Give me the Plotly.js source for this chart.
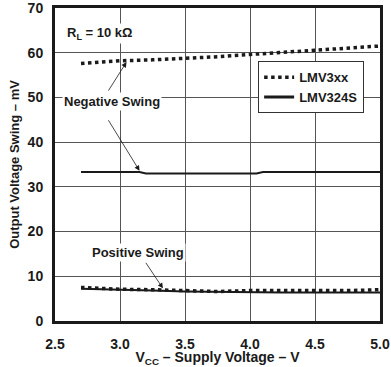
<!DOCTYPE html>
<html>
<head>
<meta charset="utf-8">
<script src="https://cdn.plot.ly/plotly-3.0.1.min.js"></script>
<style>html,body{margin:0;padding:0;background:#fff}#chart{width:391px;height:367px}</style>
</head>
<body>
<div id="chart"></div>
<script>
var vccX = [2.7, 3.0, 3.25, 3.5, 3.75, 4.0, 4.25, 4.5, 4.75, 5.0];
var lmv3xxNeg = [57.6, 58.2, 58.4, 58.7, 59.1, 59.6, 60.1, 60.6, 61.0, 61.5];
var lmv3xxPos = [7.5, 7.1, 7.0, 6.8, 6.6, 6.8, 6.8, 6.8, 6.8, 7.0];
var lmv324sNegX = [2.7, 3.15, 3.2, 4.05, 4.1, 5.0];
var lmv324sNeg = [33.3, 33.3, 33.0, 33.0, 33.3, 33.3];
var lmv324sPos = [7.2, 6.9, 6.8, 6.6, 6.5, 6.5, 6.4, 6.4, 6.4, 6.4];
var seriesNames = ["LMV3xx", "LMV324S"];
var xTicks = [2.5, 3.0, 3.5, 4.0, 4.5, 5.0];
var xTickText = ["2.5", "3.0", "3.5", "4.0", "4.5", "5.0"];
var yTicks = [0, 10, 20, 30, 40, 50, 60, 70];

var F = "Arial, 'Liberation Sans', sans-serif";
var solid = {color: "#1a1a1a", width: 2, dash: "solid"};
var dotted = {color: "#1a1a1a", width: 3.5, dash: "dot"};

var traces = [
  {x: lmv324sNegX, y: lmv324sNeg, mode: "lines", line: solid, name: seriesNames[1], showlegend: false},
  {x: vccX, y: lmv324sPos, mode: "lines", line: solid, name: seriesNames[1], showlegend: false},
  {x: vccX, y: lmv3xxNeg, mode: "lines", line: dotted, name: seriesNames[0], showlegend: true, legendrank: 1},
  {x: vccX, y: lmv3xxPos, mode: "lines", line: dotted, name: seriesNames[0], showlegend: false},
  {x: [null], y: [null], mode: "lines", line: {color: "#1a1a1a", width: 3}, name: seriesNames[1], showlegend: true, legendrank: 2}
];

var arrowStyle = {text: "", showarrow: true, arrowhead: 2, arrowsize: 1.3, arrowwidth: 0.8, arrowcolor: "#1a1a1a"};

var layout = {
  width: 391, height: 367,
  margin: {l: 55, r: 11, t: 8, b: 46},
  paper_bgcolor: "#fff", plot_bgcolor: "#fff",
  font: {family: F, size: 13, color: "#1a1a1a", weight: "bold"},
  xaxis: {
    range: [2.5, 5.0], tickvals: xTicks, ticktext: xTickText,
    showgrid: true, gridcolor: "#555", gridwidth: 1,
    showline: true, linecolor: "#1a1a1a", linewidth: 3, mirror: true,
    zeroline: false, ticks: "", ticklabelstandoff: 8, ticklabeloverflow: "allow",
    tickfont: {family: F, size: 14, weight: "bold"},
    title: {text: "V<sub>CC</sub> – Supply Voltage – V", font: {family: F, size: 14, weight: "bold"}, standoff: 10}
  },
  yaxis: {
    range: [0, 70], tickvals: yTicks,
    showgrid: true, gridcolor: "#555", gridwidth: 1,
    showline: true, linecolor: "#1a1a1a", linewidth: 3, mirror: true,
    zeroline: false, ticks: "", ticklabelstandoff: 6, ticklabeloverflow: "allow",
    tickfont: {family: F, size: 14, weight: "bold"},
    title: {text: "Output Voltage Swing – mV", font: {family: F, size: 13, weight: "bold"}, standoff: 6}
  },
  legend: {
    x: 0.625, y: 0.83, xanchor: "left", yanchor: "top",
    bgcolor: "#fff", bordercolor: "#333", borderwidth: 1,
    font: {family: F, size: 13, weight: "bold"},
    tracegroupgap: 0, itemwidth: 30
  },
  annotations: [
    {xref: "paper", yref: "paper", x: 0.03, y: 0.92, xanchor: "left", yanchor: "middle",
     text: "R<sub>L</sub> = 10 kΩ", showarrow: false, bgcolor: "#fff",
     font: {family: F, size: 13, weight: "bold"}},
    {xref: "paper", yref: "paper", x: 0.175, y: 0.70, xanchor: "center", yanchor: "middle",
     text: "Negative Swing", showarrow: false, bgcolor: "#fff",
     font: {family: F, size: 13, weight: "bold"}},
    {xref: "paper", yref: "paper", x: 0.255, y: 0.22, xanchor: "center", yanchor: "middle",
     text: "Positive Swing", showarrow: false, bgcolor: "#fff",
     font: {family: F, size: 13, weight: "bold"}},
    Object.assign({x: 3.05, y: 57.9, ax: -19, ay: 30}, arrowStyle),
    Object.assign({x: 3.15, y: 33.6, ax: -32, ay: -52}, arrowStyle),
    Object.assign({x: 3.33, y: 7.3, ax: -18, ay: -27}, arrowStyle)
  ]
};

Plotly.newPlot("chart", traces, layout, {displayModeBar: false, staticPlot: true});
</script>
</body>
</html>
